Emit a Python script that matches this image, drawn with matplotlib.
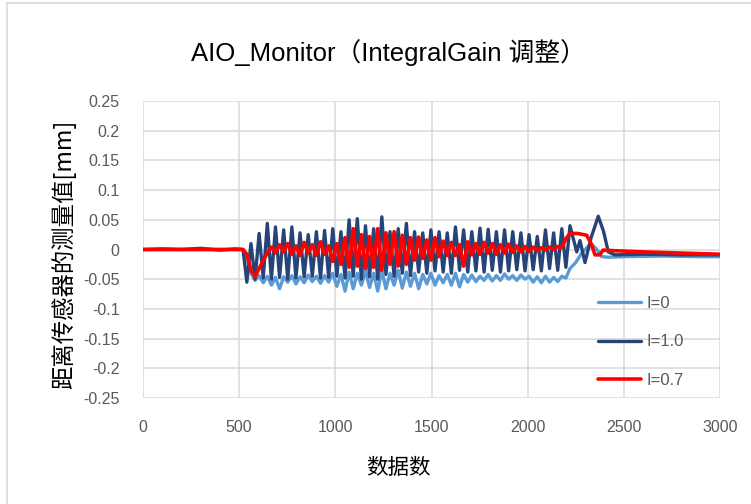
import numpy as np
import matplotlib
matplotlib.use("Agg")
import matplotlib.pyplot as plt
from matplotlib.lines import Line2D

plt.rcParams['font.family'] = ['Liberation Sans Narrow', 'Liberation Sans', 'Noto Sans CJK SC', 'DejaVu Sans']

title = "AIO_Monitor（IntegralGain 调整）"
xlabel = "数据数"
ylabel = "距离传感器的测量值[mm]"
series_names = ["I=0", "I=1.0", "I=0.7"]
colors = ["#5B9BD5", "#264478", "#FF0000"]

# sample indices
x_pre = [0, 100, 200, 300, 400, 480, 520]
x_osc = np.linspace(540, 2220, 80)

# I=1.0 (dark blue)
dark_pre = [0, 0.001, 0, 0.002, -0.001, 0.001, 0.000]
dark_osc = [-0.055, 0.010, -0.050, 0.027, -0.048, 0.044, -0.050, 0.038, -0.047, 0.033,
            -0.050, 0.038, -0.048, 0.028, -0.046, 0.025, -0.045, 0.030, -0.048, 0.032,
            -0.047, 0.035, -0.045, 0.030, -0.048, 0.050, -0.045, 0.052, -0.050, 0.040,
            -0.046, 0.035, -0.050, 0.055, -0.042, 0.030, -0.045, 0.035, -0.040, 0.044,
            -0.044, 0.030, -0.038, 0.028, -0.040, 0.033, -0.036, 0.030, -0.038, 0.028,
            -0.040, 0.038, -0.035, 0.033, -0.038, 0.030, -0.036, 0.036, -0.038, 0.034,
            -0.035, 0.030, -0.038, 0.033, -0.036, 0.030, -0.034, 0.028, -0.036, 0.025,
            -0.034, 0.022, -0.036, 0.033, -0.032, 0.028, -0.035, 0.035, -0.030, 0.040]
dark_tail_x = [2255, 2272, 2298, 2330, 2367, 2395, 2419, 2454, 2600, 2800, 3000]
dark_tail = [-0.004, 0.015, -0.022, 0.020, 0.056, 0.030, -0.004, -0.009, -0.008, -0.009, -0.009]

# I=0 (light blue)
light_pre = [0, 0, 0, 0, 0, 0, 0]
light_osc = [-0.015, -0.040, -0.052, -0.044, -0.056, -0.045, -0.060, -0.047, -0.066, -0.046,
             -0.055, -0.044, -0.058, -0.046, -0.056, -0.043, -0.054, -0.045, -0.057, -0.044,
             -0.055, -0.040, -0.062, -0.042, -0.070, -0.038, -0.066, -0.040, -0.060, -0.036,
             -0.064, -0.040, -0.070, -0.035, -0.066, -0.040, -0.060, -0.035, -0.065, -0.038,
             -0.062, -0.040, -0.066, -0.042, -0.058, -0.040, -0.060, -0.044, -0.056, -0.042,
             -0.060, -0.040, -0.063, -0.042, -0.055, -0.043, -0.054, -0.045, -0.052, -0.042,
             -0.053, -0.044, -0.052, -0.041, -0.050, -0.044, -0.052, -0.043, -0.050, -0.045,
             -0.055, -0.046, -0.056, -0.045, -0.055, -0.047, -0.054, -0.045, -0.048, -0.032]
light_tail_x = [2250, 2281, 2314, 2335, 2360, 2385, 2420, 2500, 2700, 2900, 3000]
light_tail = [-0.022, -0.006, 0.005, 0.008, 0.000, -0.012, -0.013, -0.012, -0.011, -0.012, -0.012]

# I=0.7 (red)
red_pre = [0, 0, 0, 0, 0, 0, 0]
red_osc = [-0.008, -0.035, -0.046, -0.032, -0.018, -0.006, 0.004, -0.006, 0.008, -0.004,
           0.010, -0.008, 0.006, -0.010, 0.012, -0.006, 0.008, -0.010, 0.013, -0.008,
           0.006, -0.020, 0.010, -0.025, 0.020, -0.030, 0.035, -0.028, 0.025, -0.032,
           0.022, -0.030, 0.035, -0.035, 0.028, -0.025, 0.030, -0.028, 0.024, -0.025,
           0.020, -0.018, 0.021, -0.015, 0.016, -0.018, 0.020, -0.012, 0.014, -0.010,
           0.012, -0.010, 0.008, -0.028, 0.013, -0.009, 0.010, -0.008, 0.012, -0.006,
           0.010, -0.008, 0.008, -0.006, 0.009, -0.005, 0.006, -0.004, 0.005, -0.003,
           0.004, -0.002, 0.003, -0.001, 0.004, 0.000, 0.005, 0.003, 0.018, 0.027]
red_tail_x = [2260, 2307, 2330, 2350, 2375, 2392, 2450, 2600, 2800, 3000]
red_tail = [0.027, 0.024, 0.010, -0.009, -0.009, -0.001, -0.002, -0.004, -0.006, -0.008]

xticks = [0, 500, 1000, 1500, 2000, 2500, 3000]
yticks = [0.25, 0.2, 0.15, 0.1, 0.05, 0, -0.05, -0.1, -0.15, -0.2, -0.25]

fig = plt.figure(figsize=(7.51, 5.04), dpi=100)
ax = fig.add_axes([143/751, 1-398/504, (720-143)/751, (398-101)/504])

def build(pre, osc, tx, ty):
    xs = list(x_pre) + list(x_osc) + list(tx)
    ys = list(pre) + list(osc) + list(ty)
    return xs, ys

xs0, ys0 = build(light_pre, light_osc, light_tail_x, light_tail)
xs1, ys1 = build(dark_pre, dark_osc, dark_tail_x, dark_tail)
xs2, ys2 = build(red_pre, red_osc, red_tail_x, red_tail)

kw = dict(solid_joinstyle='round', solid_capstyle='round')
ax.plot(xs0, ys0, color=colors[0], lw=2.4, label=series_names[0], **kw)
ax.plot(xs1, ys1, color=colors[1], lw=2.4, label=series_names[1], **kw)
ax.plot(xs2, ys2, color=colors[2], lw=2.6, label=series_names[2], **kw)

ax.set_xlim(0, 3000)
ax.set_ylim(-0.25, 0.25)
ax.set_xticks(xticks)
ax.set_yticks(yticks)
ax.set_yticklabels([("%g" % v) if v != 0 else "0" for v in yticks])
ax.grid(True, color="#D9D9D9", lw=1.1)
ax.set_axisbelow(True)
for s in ax.spines.values():
    s.set_visible(False)
ax.tick_params(length=0, labelsize=11.5, colors="#595959")
ax.tick_params(axis='y', pad=17)
ax.tick_params(axis='x', pad=16)

fig.text(388/751, 1-53/504, title, fontsize=18.5, color="#000000", ha='center', va='center')
fig.text(398/751, 1-468/504, xlabel, fontsize=15.5, ha='center', va='center',
         family=['Noto Sans CJK SC'])
fig.text(64/751, 1-254/504, ylabel, fontsize=16.8, ha='center', va='center', rotation=90,
         family=['Noto Sans CJK SC', 'DejaVu Sans'])

leg = ax.legend(loc='upper left', bbox_to_anchor=((591-143)/577, 1 - (289-101)/297),
                frameon=False, fontsize=12, labelcolor="#595959",
                handlelength=2.6, handletextpad=0.3, labelspacing=1.42, borderaxespad=0)

# chart area border (left and top visible)
fig.add_artist(Line2D([7/751, 7/751], [0, 1-3/504], color="#D9D9D9", lw=1.2, transform=fig.transFigure))
fig.add_artist(Line2D([7/751, 1], [1-3/504, 1-3/504], color="#D9D9D9", lw=1.2, transform=fig.transFigure))

fig.savefig("out.png", dpi=100)
